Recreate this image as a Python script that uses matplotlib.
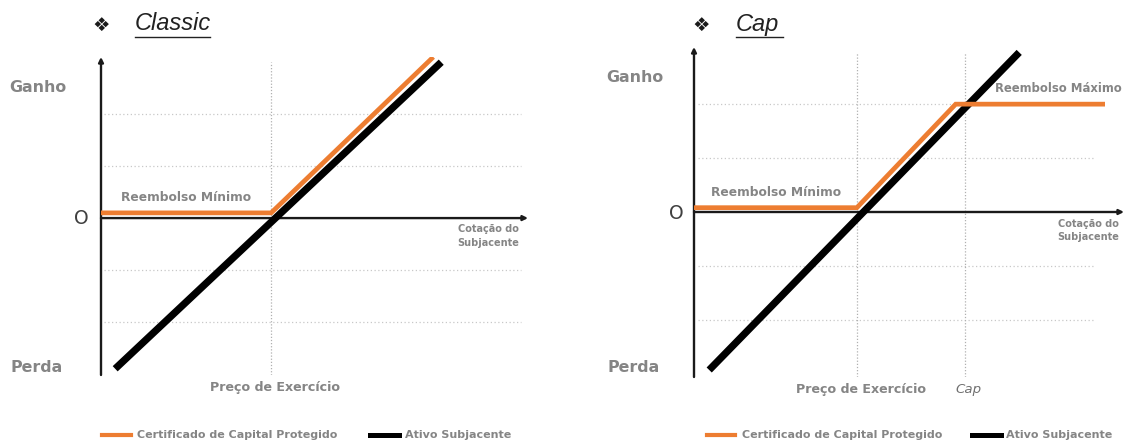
import matplotlib
matplotlib.use("Agg")
import matplotlib.pyplot as plt
from matplotlib.lines import Line2D

# ---------------- data ----------------
strike = 3.0
cap_level = 5.0
grid_levels = [-2, -1, 1, 2]

classic_orange_x = [0.0, 3.0, 5.86]
classic_orange_y = [0.10, 0.10, 3.10]
classic_black_x = [0.25, 6.0]
classic_black_y = [-2.90, 3.0]

cap_orange_x = [0.0, 3.0, 4.82, 7.57]
cap_orange_y = [0.08, 0.08, 2.0, 2.0]
cap_black_x = [0.28, 5.99]
cap_black_y = [-2.93, 2.96]

legend_labels = ["Certificado de Capital Protegido", "Ativo Subjacente"]

ORANGE = "#ED7D31"
BLACK = "#000000"
GRAY = "#858585"
AXC = "#1a1a1a"
GRIDC = "#c8c8c8"

W, H = 1126, 442
fig = plt.figure(figsize=(W / 100, H / 100), dpi=100)
fig.patch.set_facecolor("white")


def fx(px):
    return px / W


def fy(py):
    return 1 - py / H


def make_axes(x0, x1, ytop, ybot, xlim, ylim):
    ax = fig.add_axes([fx(x0), fy(ybot), fx(x1) - fx(x0), fy(ytop) - fy(ybot)])
    ax.set_xlim(*xlim)
    ax.set_ylim(*ylim)
    ax.axis("off")
    return ax


def draw_frame(ax, xmax, ybot, ytop, grid_x0, grid_x1, verticals, vtop):
    for g in grid_levels:
        ax.plot([grid_x0, grid_x1], [g, g], color=GRIDC, lw=0.9,
                ls=(0, (1, 2)), zorder=1)
    for v in verticals:
        ax.plot([v, v], [ybot, vtop], color="#b0b0b0", lw=0.9,
                ls=(0, (1, 1.5)), zorder=1)
    ax.annotate("", xy=(0, ytop), xytext=(0, ybot),
                arrowprops=dict(arrowstyle="-|>", lw=1.7, color=AXC,
                                mutation_scale=7, shrinkA=0, shrinkB=0),
                zorder=2)
    ax.annotate("", xy=(xmax, 0), xytext=(0, 0),
                arrowprops=dict(arrowstyle="-|>", lw=1.7, color=AXC,
                                mutation_scale=7, shrinkA=0, shrinkB=0),
                zorder=2)


# ---------------- left: Classic ----------------
axL = make_axes(101, 528, 57, 375, (0, 7.53), (-3.02, 3.10))
draw_frame(axL, 7.53, -3.02, 3.10, 0.05, 7.4, [strike], 3.0)
axL.plot(classic_black_x, classic_black_y, color=BLACK, lw=5.2,
         solid_capstyle="butt", zorder=3)
axL.plot(classic_orange_x, classic_orange_y, color=ORANGE, lw=3.4,
         solid_capstyle="butt", solid_joinstyle="miter", zorder=4)

# ---------------- right: Cap ----------------
axR = make_axes(694, 1124, 47, 377, (0, 7.92), (-3.06, 3.06))
draw_frame(axR, 7.92, -3.06, 3.06, 0.07, 7.35, [strike, cap_level], 2.95)
axR.plot(cap_black_x, cap_black_y, color=BLACK, lw=5.2,
         solid_capstyle="butt", zorder=3)
axR.plot(cap_orange_x, cap_orange_y, color=ORANGE, lw=3.4,
         solid_capstyle="butt", solid_joinstyle="miter", zorder=4)

# ---------------- texts ----------------
FONT = "DejaVu Sans"


def t(px, py, s, size, color=GRAY, weight="bold", style="normal",
      ha="center", family=FONT):
    fig.text(fx(px), fy(py), s, fontsize=size, color=color, weight=weight,
             style=style, ha=ha, va="center", family=family)


# titles
for xd, xt, xe, title in [(101, 135, 210, "Classic"), (701, 736, 783, "Cap")]:
    t(xd, 25, "\u2756", 14, color="#1a1a1a", weight="normal")
    t(xt, 24, title, 17, color="#222222", weight="normal", style="italic",
      ha="left", family="Liberation Sans")
    fig.add_artist(Line2D([fx(xt), fx(xe)], [fy(37), fy(37)], color="#222222",
                          lw=1.0, transform=fig.transFigure))

# left labels
t(38, 88, "Ganho", 11.4)
t(37, 367, "Perda", 11.4)
t(81.5, 218, "O", 13.5, color="#404040", weight="normal")
t(186, 198, "Reembolso Mínimo", 8.8)
t(275, 388, "Preço de Exercício", 9.1)
t(488, 229, "Cotação do", 7.0)
t(488, 243, "Subjacente", 7.0)

# right labels
t(635, 78, "Ganho", 11.4)
t(634, 367, "Perda", 11.4)
t(676, 213, "O", 13.5, color="#404040", weight="normal")
t(776, 192, "Reembolso Mínimo", 8.8)
t(1058, 89, "Reembolso Máximo", 8.4)
t(861, 389, "Preço de Exercício", 9.1)
t(968, 389, "Cap", 9.6, color="#707070", style="italic", weight="normal")
t(1088, 224, "Cotação do", 7.0)
t(1088, 237, "Subjacente", 7.0)

# legends
for (o0, o1, ot, b0, b1, bt) in [(102, 131, 137, 370, 399, 405),
                                  (707, 735, 742, 972, 1001, 1006)]:
    fig.add_artist(Line2D([fx(o0), fx(o1)], [fy(435), fy(435)], color=ORANGE,
                          lw=3.0, transform=fig.transFigure))
    t(ot, 435, legend_labels[0], 8.0, ha="left")
    fig.add_artist(Line2D([fx(b0), fx(b1)], [fy(435), fy(435)], color=BLACK,
                          lw=3.6, transform=fig.transFigure))
    t(bt, 435, legend_labels[1], 8.0, ha="left")

fig.savefig("out.png", dpi=100, facecolor="white")
